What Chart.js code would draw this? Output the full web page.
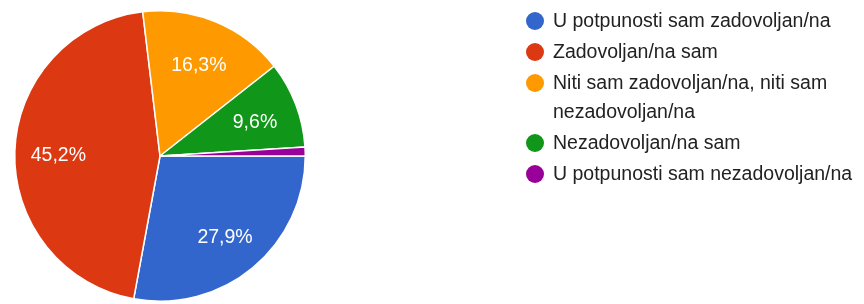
<!DOCTYPE html>
<html>
<head>
<meta charset="utf-8">
<script src="https://cdn.jsdelivr.net/npm/chart.js@4/dist/chart.umd.min.js"></script>
<style>
  html, body { margin: 0; padding: 0; background: #fff; }
  #wrap { position: relative; width: 864px; height: 304px; overflow: hidden; }
  #c { position: absolute; left: 0; top: 0; }
  #legend { position: absolute; left: 526px; top: 6px; font-family: "Liberation Sans", Arial, sans-serif; font-size: 19.5px; color: #222222; }
  .item { position: relative; padding-left: 27px; line-height: 29px; margin-bottom: 2px; white-space: nowrap; }
  .dot { position: absolute; left: 0; top: 6px; width: 18px; height: 18px; border-radius: 50%; }
</style>
</head>
<body>
<div id="wrap">
  <canvas id="c" width="864" height="304"></canvas>
  <div id="legend"></div>
</div>
<script>
const categories = [
  "U potpunosti sam zadovoljan/na",
  "Zadovoljan/na sam",
  "Niti sam zadovoljan/na, niti sam nezadovoljan/na",
  "Nezadovoljan/na sam",
  "U potpunosti sam nezadovoljan/na"
];
const legendLines = [
  ["U potpunosti sam zadovoljan/na"],
  ["Zadovoljan/na sam"],
  ["Niti sam zadovoljan/na, niti sam", "nezadovoljan/na"],
  ["Nezadovoljan/na sam"],
  ["U potpunosti sam nezadovoljan/na"]
];
const values = [27.9, 45.2, 16.3, 9.6, 1.0];
const colors = ["#3366cc", "#dc3912", "#ff9900", "#109618", "#990099"];

// HTML legend built from arrays
const leg = document.getElementById('legend');
legendLines.forEach((lines, i) => {
  const d = document.createElement('div');
  d.className = 'item';
  const dot = document.createElement('span');
  dot.className = 'dot';
  dot.style.background = colors[i];
  d.appendChild(dot);
  d.appendChild(document.createTextNode(lines[0]));
  for (let k = 1; k < lines.length; k++) {
    d.appendChild(document.createElement('br'));
    d.appendChild(document.createTextNode(lines[k]));
  }
  leg.appendChild(d);
});

const FS = 19.5;
const labelPlugin = {
  id: 'sliceLabels',
  afterDatasetsDraw(chart) {
    const ctx = chart.ctx;
    const meta = chart.getDatasetMeta(0);
    ctx.save();
    ctx.font = FS + 'px "Liberation Sans", Arial, sans-serif';
    ctx.fillStyle = '#ffffff';
    ctx.textAlign = 'center';
    ctx.textBaseline = 'alphabetic';
    meta.data.forEach((arc, i) => {
      const v = values[i];
      if (v < 5) return;
      const p = arc.getProps(['x', 'y', 'startAngle', 'endAngle', 'outerRadius'], true);
      const mid = (p.startAngle + p.endAngle) / 2;
      const r = p.outerRadius * 0.70;
      const txt = v.toFixed(1).replace('.', ',') + '%';
      ctx.fillText(txt, p.x + Math.cos(mid) * r, p.y + Math.sin(mid) * r + 1.5 + 0.358 * FS);
    });
    ctx.restore();
  }
};

new Chart(document.getElementById('c'), {
  type: 'pie',
  data: {
    labels: categories,
    datasets: [{
      data: values,
      backgroundColor: colors,
      borderColor: '#ffffff',
      borderWidth: 1.5
    }]
  },
  options: {
    responsive: false,
    animation: false,
    rotation: 90,
    layout: { padding: { left: 14, right: 558, top: 10, bottom: 2 } },
    plugins: { legend: { display: false }, tooltip: { enabled: false } }
  },
  plugins: [labelPlugin]
});
</script>
</body>
</html>
